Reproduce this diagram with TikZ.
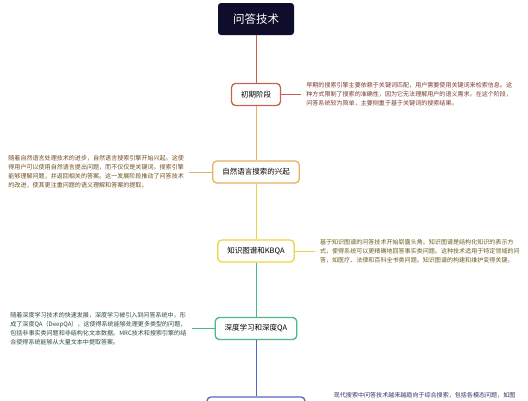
\documentclass[tikz,border=0pt]{standalone}
\usepackage{fontspec}
\setmainfont{Noto Sans CJK SC}
\usepackage{xcolor}
\usepackage{tikz}
\usetikzlibrary{positioning}
\definecolor{rootbg}{HTML}{0E0E2C}
\definecolor{rust}{HTML}{C8604E}
\definecolor{amber}{HTML}{E6B05E}
\definecolor{lemon}{HTML}{E8D44A}
\definecolor{mint}{HTML}{4DB883}
\definecolor{indigo}{HTML}{5A63C6}
\definecolor{rustink}{HTML}{7C3A2C}
\definecolor{amberink}{HTML}{6E4C1E}
\definecolor{lemonink}{HTML}{6B5D1C}
\definecolor{mintink}{HTML}{2C4C3C}
\definecolor{indigoink}{HTML}{2E3468}

\begin{document}
\begin{tikzpicture}[x=1pt,y=-1pt,node distance=24pt,
root/.style={fill=rootbg,text=white,rounded corners=3pt,minimum width=76pt,minimum height=32pt,font=\fontsize{11.5}{12}\selectfont},
stage/.style={draw,line width=1.3pt,fill=white,rounded corners=4pt,inner xsep=9.5pt,minimum height=22pt,font=\fontsize{7.5}{8}\selectfont},
note/.style={align=left,inner sep=1pt,font=\fontsize{6.05}{9}\selectfont},
link/.style={line width=1pt}]
\useasboundingbox (0,0) rectangle (528,400);
\clip (0,0) rectangle (528,400);
\node[root] (topic) at (256,19) {问答技术};
\node[stage,draw=rust] (early) at (256,94.5) {初期阶段};
\node[stage,draw=amber] (natural) at (256,172) {自然语言搜索的兴起};
\node[stage,draw=lemon] (kbqa) at (256,251) {知识图谱和KBQA};
\node[stage,draw=mint] (deepqa) at (256,328.5) {深度学习和深度QA};
\node[stage,draw=indigo,minimum width=98pt] (modern) at (256,408) {};
% notes
\node[note,text=rustink,right=of early] (earlynote) {早期的搜索引擎主要依赖于关键词匹配，用户需要使用关键词来检索信息。这\\种方式限制了搜索的准确性，因为它无法理解用户的语义需求。在这个阶段，\\问答系统较为简单，主要侧重于基于关键词的搜索结果。};
\node[note,text=amberink,left=27pt of natural] (naturalnote) {随着自然语言处理技术的进步，自然语言搜索引擎开始兴起。这使\\得用户可以使用自然语言提出问题，而不仅仅是关键词。搜索引擎\\能够理解问题，并返回相关的答案。这一发展阶段推动了问答技术\\的改进，使其更注重问题的语义理解和答案的提取。};
\node[note,text=lemonink,right=of kbqa] (kbqanote) {基于知识图谱的问答技术开始崭露头角。知识图谱是结构化知识的表示方\\式，使得系统可以更精确地回答事实类问题。这种技术适用于特定领域的问\\答，如医疗、法律和百科全书类问题。知识图谱的构建和维护变得关键。};
\node[note,text=mintink,left=27pt of deepqa] (deepqanote) {随着深度学习技术的快速发展，深度学习被引入到问答系统中，形\\成了深度QA（DeepQA），这使得系统能够处理更多类型的问题，\\包括非事实类问题和非结构化文本数据。MRC技术和搜索引擎的结\\合使得系统能够从大量文本中提取答案。};
\node[note,text=indigoink,anchor=west] (modernnote) at ([xshift=27pt,yshift=13pt]modern.east) {现代搜索中问答技术越来越趋向于综合搜索，包括各模态问题，如图};
% links
\foreach \a/\b/\c in {topic/early/rust,early/natural/amber,natural/kbqa/lemon,kbqa/deepqa/mint,deepqa/modern/indigo}
  \draw[link,\c] (\a.south)--(\b.north);
\foreach \a/\b/\c in {early/earlynote/rust,natural/naturalnote/amber,kbqa/kbqanote/lemon,deepqa/deepqanote/mint}
  \draw[link,\c,shorten >=4pt] (\a)--(\b);
\end{tikzpicture}
\end{document}
